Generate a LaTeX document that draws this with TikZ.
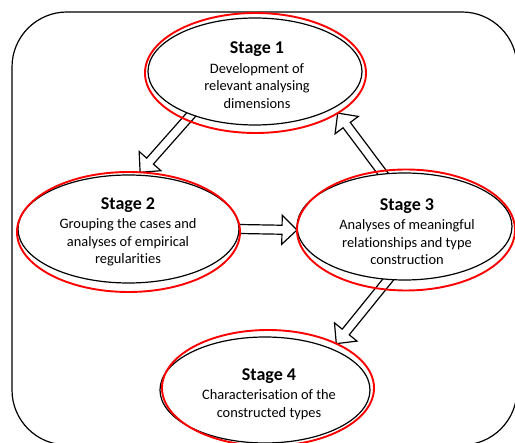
\documentclass[tikz,border=0pt]{standalone}
\usepackage{fontspec}
\setmainfont{Carlito}[Ligatures=NoCommon]
\usetikzlibrary{shapes.geometric,calc,backgrounds}
\tikzset{
  blk/.style={draw=black, line width=1.2pt, fill=white, ellipse, inner sep=0pt, outer sep=0pt},
  redell/.style={draw=red, line width=1.9pt, ellipse, inner sep=0pt, outer sep=0pt},
  blockarr/.style={draw=black, line width=1.2pt, fill=white, line join=miter},
  frame/.style={draw=black, line width=1.2pt, rounded corners=55pt},
  stagetext/.style={align=center, font=\fontsize{14.4}{17.5}\selectfont, text=black, inner sep=0pt},
}
\newcommand\stitle[1]{{\fontsize{18}{20}\selectfont\bfseries #1}\\[2pt]}
\newcommand\blockarrow[3]{%
  \coordinate (#3a) at ($(#1)!-12pt!(#2)$);
  \coordinate (#3h) at ($(#2)!15pt!(#1)$);
  \draw[blockarr] ($(#3a)!4.5pt!90:(#2)$) -- ($(#3h)!4.5pt!90:(#2)$) -- ($(#3h)!14.5pt!90:(#2)$) -- (#2)
     -- ($(#3h)!14.5pt!-90:(#2)$) -- ($(#3h)!4.5pt!-90:(#2)$) -- ($(#3a)!4.5pt!-90:(#2)$) -- cycle;}
\begin{document}
\begin{tikzpicture}[x=1pt,y=-1pt]
\useasboundingbox (0,0) rectangle (515,443);
% black ellipses
\node[blk, minimum width=214pt, minimum height=107pt] (s1) at (255,71.5) {};
\node[blk, minimum width=221pt, minimum height=108pt] (s2) at (128.5,229) {};
\node[blk, minimum width=215pt, minimum height=107pt] (s3) at (404.5,226.5) {};
\node[blk, minimum width=210pt, minimum height=106pt] (s4) at (265,390) {};
% red ellipses
\node[redell, minimum width=221pt, minimum height=120pt] (r1) at (255.5,73) {};
\node[redell, minimum width=223pt, minimum height=120pt] (r2) at (128.5,232) {};
\node[redell, minimum width=218pt, minimum height=121pt] (r3) at (406,230) {};
\node[redell, minimum width=212pt, minimum height=116pt] (r4) at (268,388) {};
\begin{pgfonlayer}{background}
  \begin{scope}
    \clip (0,0) rectangle (515,443);
    \draw[frame] (12,12) rectangle (517,445);
  \end{scope}
  \blockarrow{s1.214}{r2.79}{aa}
  \blockarrow{s2.east}{r3.west}{ab}
  \blockarrow{s3.112}{r1.-26}{ac}
  \blockarrow{s3.253}{r4.33}{ad}
\end{pgfonlayer}
% texts
\node[stagetext] (t1) at (257,75) {\stitle{Stage 1}Development of\\relevant analysing\\dimensions};
\node[stagetext] (t2) at (128,232) {\stitle{Stage 2}Grouping the cases and\\analyses of empirical\\regularities};
\node[stagetext] (t3) at (407,231.5) {\stitle{Stage 3}Analyses of meaningful\\relationships and type\\construction};
\node[stagetext] (t4) at (269,394) {\stitle{Stage 4}Characterisation of the\\constructed types};
\end{tikzpicture}
\end{document}
